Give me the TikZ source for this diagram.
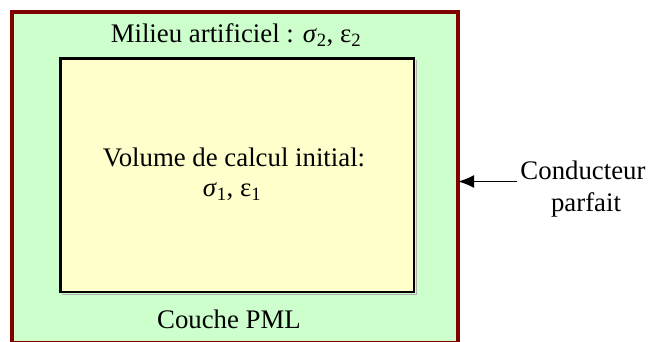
\documentclass[tikz,border=0pt]{standalone}
\usepackage{fontspec}
\setmainfont{Liberation Serif}
\usetikzlibrary{arrows.meta}
\definecolor{pmlgreen}{HTML}{CCFFCC}
\definecolor{volyellow}{HTML}{FFFFCC}
\definecolor{pecred}{HTML}{800000}
\begin{document}
\begin{tikzpicture}[x=1pt,y=-1pt,
  lbl/.style={font=\fontsize{26.8}{30}\selectfont, inner sep=0pt, anchor=base},
  outerbox/.style={draw=pecred, line width=4pt, fill=pmlgreen},
  innerbox/.style={draw=black, line width=2.5pt, fill=volyellow},
  conn/.style={-{Latex[length=16pt,width=13pt]}, line width=1.8pt}]
\useasboundingbox (0,0) rectangle (649,341);
\begin{scope}
\clip (0,0) rectangle (649,341);
\draw[outerbox] (12,12) rectangle (458,342.5);
\end{scope}
\draw[gray!60, line width=1pt] (62,294) -- (416,294) -- (416,60);
\draw[innerbox] (60.7,58.7) rectangle (414,292);
\node[lbl] (milieu) at (236,42.3) {Milieu artificiel : \textit{σ}\textsubscript{2}, ε\textsubscript{2}};
\node[lbl] (volume) at (234,166) {Volume de calcul initial:};
\node[lbl] (sig) at (232,196.5) {\textit{σ}\textsubscript{1}, ε\textsubscript{1}};
\node[lbl] (pml) at (229,328) {Couche PML};
\node[lbl] (cond) at (583,179) {Conducteur};
\node[lbl] (parf) at (586,211.5) {parfait};
\coordinate (wall) at (458,181.5);
\coordinate (tail) at (517,181.5);
\draw[conn] (tail) -- (wall);
\end{tikzpicture}
\end{document}
